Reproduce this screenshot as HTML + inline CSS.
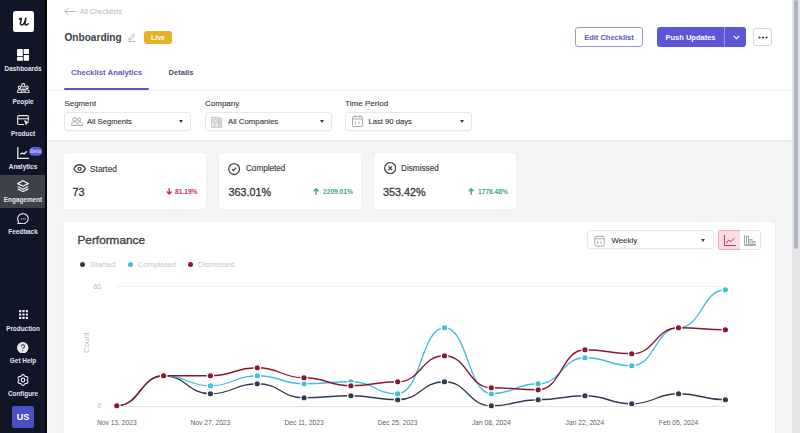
<!DOCTYPE html>
<html><head><meta charset="utf-8">
<style>
*{box-sizing:border-box;margin:0;padding:0}
html,body{width:800px;height:433px;overflow:hidden;background:#f4f4f5;font-family:"Liberation Sans",sans-serif;color:#3e4049}
.a{position:absolute;white-space:nowrap}
#side{position:absolute;left:0;top:0;width:47px;height:433px;background:#101527;border-right:2px solid #05080e}
.logo{position:absolute;left:12.5px;top:10.5px;width:21px;height:21px;background:#fff;border-radius:2.5px}
.logo span{position:absolute;left:0;top:3px;width:22px;text-align:center;font-family:"Liberation Serif",serif;font-style:italic;font-size:15px;color:#1a1f2c;line-height:14px}
.nl{position:absolute;left:0;width:46px;text-align:center;font-size:6.4px;font-weight:700;color:#e3e5ea;line-height:8px}
svg.ic{position:absolute}
#top{position:absolute;left:47px;top:0;width:745px;height:140px;background:#fff;box-shadow:0 1px 2px rgba(0,0,0,.07)}
.btn{position:absolute;border-radius:3px;font-size:7.5px;font-weight:700;text-align:center;padding-top:1px}
.lbl{position:absolute;font-size:8px;color:#3a3d45;line-height:10px;white-space:nowrap;-webkit-text-stroke:.12px #3a3d45}
.sel{position:absolute;height:19px;width:127px;background:#fff;border:1px solid #e9e9eb;border-radius:3px;box-shadow:0 1px 1px rgba(0,0,0,.03)}
.sel .t{position:absolute;top:4px;font-size:7.7px;color:#30333a;-webkit-text-stroke:.1px #30333a;line-height:10px;white-space:nowrap}
.caret{position:absolute;top:7px;width:0;height:0;border-left:2.6px solid transparent;border-right:2.6px solid transparent;border-top:3px solid #3e4148}
.card{position:absolute;background:#fff;border-radius:3px;box-shadow:0 0 1.5px rgba(0,0,0,.08)}
.ct{position:absolute;font-size:8.2px;color:#3a3d45;line-height:10px;white-space:nowrap;-webkit-text-stroke:.15px #3a3d45}
.cv{position:absolute;font-size:10.8px;color:#35383f;line-height:12px;white-space:nowrap;-webkit-text-stroke:.3px #35383f}
.cp{position:absolute;font-size:6.65px;font-weight:700;line-height:8px;white-space:nowrap}
#scroll{position:absolute;left:792px;top:0;width:8px;height:433px;background:#e2e5e8}
#thumb{position:absolute;left:794px;top:0;width:4px;height:249px;background:#afb4bb;border-radius:2px}
.chart{position:absolute;left:0;top:0}
.ax{position:absolute;font-size:6.7px;color:#5f6268;line-height:8px;white-space:nowrap}
.lg{position:absolute;font-size:7.9px;color:#c3c6cc;line-height:10px;white-space:nowrap}
.dot{position:absolute;width:5px;height:5px;border-radius:50%}
</style></head><body>
<div id="side">
  <div class="logo"><svg style="position:absolute;left:0;top:0" width="21" height="21" viewBox="0 0 21 21" fill="none" stroke="#16181d" stroke-width="1.5" stroke-linecap="round" stroke-linejoin="round"><path d="M6.5 8.3Q7.2 6.9 8 7.2Q8.5 7.5 8.1 9.2L7.5 11.6Q7.1 13.8 8.6 14Q10.2 14 11.6 11.4L12.9 7.2L12.1 11.8Q11.8 14 13 14Q14 14 15.3 12.8"/></svg></div>
  <!-- dashboards -->
  <svg class="ic" style="left:16.9px;top:48.9px" width="12.3" height="11.7" viewBox="0 0 12.3 11.7" fill="#fff"><rect x="0" y="0" width="5.8" height="6.9" rx=".5"/><rect x="6.7" y="0" width="5.6" height="5" rx=".5"/><rect x="0" y="7.7" width="5.8" height="4" rx=".5"/><rect x="6.7" y="5.9" width="5.6" height="5.8" rx=".5"/></svg>
  <div class="nl" style="top:65px">Dashboards</div>
  <!-- people -->
  <svg class="ic" style="left:17px;top:82.5px" width="12.5" height="10.5" viewBox="0 0 12.5 10.5" fill="none" stroke="#e8e9ec" stroke-width="1.1"><circle cx="6.25" cy="2.3" r="1.65"/><circle cx="2.5" cy="4.4" r="1.25"/><circle cx="10" cy="4.4" r="1.25"/><path d="M.6 9.9V8.3Q.6 6.7 2.5 6.7Q3.4 6.7 3.9 7.1Q4.8 6.1 6.25 6.1Q7.7 6.1 8.6 7.1Q9.1 6.7 10 6.7Q11.9 6.7 11.9 8.3V9.9Z"/><path d="M4.2 9.9V9Q4.2 7.7 6.25 7.7Q8.3 7.7 8.3 9V9.9"/></svg>
  <div class="nl" style="top:98px">People</div>
  <!-- product -->
  <svg class="ic" style="left:17px;top:115px" width="12.5" height="11" viewBox="0 0 12.5 11" fill="none" stroke="#e8e9ec" stroke-width="1.1"><path d="M7 9.5H1.8q-1.2 0-1.2-1.2V1.8Q.6.6 1.8.6h8.4q1.2 0 1.2 1.2v4"/><path d="M.6 3.8h10.8"/><path d="M7.4 5.6l4.4 1.6-1.9.8-.8 2z" fill="#e8e9ec" stroke-width=".6"/></svg>
  <div class="nl" style="top:130px">Product</div>
  <!-- analytics -->
  <svg class="ic" style="left:16.6px;top:147px" width="12.5" height="12.5" viewBox="0 0 12.5 12.5" fill="none" stroke="#e8e9ec" stroke-width="1.3"><path d="M.8 0v11.3h11.5"/><path d="M3.2 7.3l2.1-1.3 1.7.9 2.9-2.7"/></svg>
  <svg class="ic" style="left:28.7px;top:147.1px" width="13.2" height="8.8" viewBox="0 0 13.2 8.8"><rect x="0" y="0" width="13.2" height="8.8" rx="4.4" fill="#615ddc"/><text x="6.6" y="6.2" text-anchor="middle" font-family="Liberation Sans" font-weight="700" font-size="4.9" fill="#c4c2ff">Beta</text></svg>
  <div class="nl" style="top:163px">Analytics</div>
  <!-- engagement (active) -->
  <div class="a" style="left:0;top:175.3px;width:45px;height:32.5px;background:#3d4149"></div>
  <svg class="ic" style="left:17px;top:179.5px" width="12" height="12" viewBox="0 0 12 12" fill="none" stroke="#f0f1f3" stroke-width="1.2" stroke-linejoin="round"><path d="M6 .7l5.3 2.9L6 6.3.7 3.6z"/><path d="M.7 6.5L6 9.2l5.3-2.7"/><path d="M.7 8.9L6 11.5l5.3-2.6"/></svg>
  <div class="nl" style="top:196px">Engagement</div>
  <!-- feedback -->
  <svg class="ic" style="left:17px;top:212.5px" width="12" height="11.5" viewBox="0 0 12 11.5" fill="none" stroke="#e8e9ec" stroke-width="1.1"><path d="M6.2.6a5.1 5.1 0 1 1-2.5 9.6L.8 11l.7-2.6A5.1 5.1 0 0 1 6.2.6z"/><circle cx="4.3" cy="5.9" r=".6" fill="#e8e9ec" stroke="none"/><circle cx="6.2" cy="5.9" r=".6" fill="#e8e9ec" stroke="none"/><circle cx="8.1" cy="5.9" r=".6" fill="#e8e9ec" stroke="none"/></svg>
  <div class="nl" style="top:228px">Feedback</div>
  <!-- production -->
  <svg class="ic" style="left:18.6px;top:310.3px" width="9" height="9" viewBox="0 0 9 9" fill="#f4f5f7"><rect x="0" y="0" width="2.2" height="2.2" rx=".5"/><rect x="3.4" y="0" width="2.2" height="2.2" rx=".5"/><rect x="6.8" y="0" width="2.2" height="2.2" rx=".5"/><rect x="0" y="3.4" width="2.2" height="2.2" rx=".5"/><rect x="3.4" y="3.4" width="2.2" height="2.2" rx=".5"/><rect x="6.8" y="3.4" width="2.2" height="2.2" rx=".5"/><rect x="0" y="6.8" width="2.2" height="2.2" rx=".5"/><rect x="3.4" y="6.8" width="2.2" height="2.2" rx=".5"/><rect x="6.8" y="6.8" width="2.2" height="2.2" rx=".5"/></svg>
  <div class="nl" style="top:325px">Production</div>
  <!-- get help -->
  <svg class="ic" style="left:17.4px;top:341.8px" width="11.5" height="11.5" viewBox="0 0 11.5 11.5"><circle cx="5.75" cy="5.75" r="5.7" fill="#e9eaed"/><path d="M4.1 4.4a1.7 1.7 0 1 1 2.4 1.5c-.6.3-.8.6-.8 1.2" fill="none" stroke="#3a3d44" stroke-width="1.1"/><circle cx="5.7" cy="8.6" r=".65" fill="#3a3d44"/></svg>
  <div class="nl" style="top:357px">Get Help</div>
  <!-- configure -->
  <svg class="ic" style="left:17.2px;top:374.3px" width="12" height="12" viewBox="0 0 12 12" fill="none" stroke="#e8e9ec" stroke-width="1.2"><path d="M10.25 6.00 L10.27 6.22 L10.34 6.46 L10.44 6.70 L10.56 6.97 L10.68 7.26 L10.79 7.56 L10.86 7.86 L10.87 8.17 L10.83 8.46 L10.72 8.72 L10.55 8.95 L10.32 9.14 L10.04 9.27 L9.74 9.37 L9.43 9.43 L9.12 9.47 L8.83 9.50 L8.57 9.53 L8.33 9.59 L8.12 9.68 L7.94 9.81 L7.78 9.99 L7.61 10.20 L7.44 10.44 L7.26 10.68 L7.05 10.93 L6.81 11.14 L6.56 11.31 L6.28 11.41 L6.00 11.45 L5.72 11.41 L5.44 11.31 L5.19 11.14 L4.95 10.93 L4.74 10.68 L4.56 10.44 L4.39 10.20 L4.22 9.99 L4.06 9.81 L3.88 9.68 L3.67 9.59 L3.43 9.53 L3.17 9.50 L2.88 9.47 L2.57 9.43 L2.26 9.37 L1.96 9.27 L1.68 9.14 L1.45 8.95 L1.28 8.72 L1.17 8.46 L1.13 8.17 L1.14 7.86 L1.21 7.56 L1.32 7.26 L1.44 6.97 L1.56 6.70 L1.66 6.46 L1.73 6.22 L1.75 6.00 L1.73 5.78 L1.66 5.54 L1.56 5.30 L1.44 5.03 L1.32 4.74 L1.21 4.44 L1.14 4.14 L1.13 3.83 L1.17 3.54 L1.28 3.28 L1.45 3.05 L1.68 2.86 L1.96 2.73 L2.26 2.63 L2.57 2.57 L2.88 2.53 L3.17 2.50 L3.43 2.47 L3.67 2.41 L3.87 2.32 L4.06 2.19 L4.22 2.01 L4.39 1.80 L4.56 1.56 L4.74 1.32 L4.95 1.07 L5.19 0.86 L5.44 0.69 L5.72 0.59 L6.00 0.55 L6.28 0.59 L6.56 0.69 L6.81 0.86 L7.05 1.07 L7.26 1.32 L7.44 1.56 L7.61 1.80 L7.78 2.01 L7.94 2.19 L8.12 2.32 L8.33 2.41 L8.57 2.47 L8.83 2.50 L9.12 2.53 L9.43 2.57 L9.74 2.63 L10.04 2.73 L10.32 2.86 L10.55 3.05 L10.72 3.28 L10.83 3.54 L10.87 3.83 L10.86 4.14 L10.79 4.44 L10.68 4.74 L10.56 5.03 L10.44 5.30 L10.34 5.54 L10.27 5.78Z"/><circle cx="6" cy="6" r="1.8"/></svg>
  <div class="nl" style="top:390px">Configure</div>
  <!-- avatar -->
  <div class="a" style="left:12px;top:406px;width:22px;height:22px;background:#4b4fc4;border-radius:2px;color:#fff;font-size:9px;font-weight:700;text-align:center;line-height:22px">US</div>
</div>

<div id="top"></div>
<!-- header -->
<svg class="ic" style="left:64px;top:7px" width="12" height="9" viewBox="0 0 12 9" fill="none" stroke="#b4b6ba" stroke-width="1"><path d="M11.5 4.5H1M4.5 1L1 4.5 4.5 8"/></svg>
<div class="a" style="left:80px;top:7px;font-size:7.06px;color:#b4b6bb;line-height:9px">All Checklists</div>
<div class="a" style="left:64.5px;top:31px;font-size:10.1px;font-weight:700;color:#3d4048;line-height:13px">Onboarding</div>
<svg class="ic" style="left:128px;top:33px" width="8" height="9" viewBox="0 0 8 9" fill="none" stroke="#a9abb0" stroke-width=".9"><path d="M1 7l.3-1.8L5.6 1 7 2.4 2.7 6.7z"/><path d="M0.5 8.5h7"/></svg>
<div class="a" style="left:144px;top:31px;width:28px;height:13px;background:#e2b324;border-radius:3px;color:#fff;font-size:7px;font-weight:700;text-align:center;line-height:13px">Live</div>

<div class="btn" style="left:575px;top:27.3px;width:68px;height:19.5px;border:1px solid #9b97e3;color:#5b56bb;line-height:17px">Edit Checklist</div>
<div class="btn" style="left:656.5px;top:27.4px;width:89.5px;height:19.2px;background:#5d57d8;color:#fff;line-height:20px"><span style="position:absolute;left:0;top:1px;line-height:19px;width:68px;text-align:center">Push Updates</span><span style="position:absolute;left:67.5px;top:0;width:1px;height:19.2px;background:#9893ea"></span><svg style="position:absolute;left:76px;top:8px" width="7" height="5" viewBox="0 0 7 5" fill="none" stroke="#fff" stroke-width="1.2"><path d="M.7 .8L3.5 3.6 6.3 .8"/></svg></div>
<div class="btn" style="left:753px;top:28px;width:19px;height:18px;border:1px solid #d9d9dd;background:#fff"><svg style="position:absolute;left:4px;top:7px" width="10" height="3" viewBox="0 0 10 3" fill="#3a3d45"><circle cx="1.5" cy="1.5" r="1.1"/><circle cx="5" cy="1.5" r="1.1"/><circle cx="8.5" cy="1.5" r="1.1"/></svg></div>

<!-- tabs -->
<div class="a" style="left:71px;top:68.3px;font-size:7.8px;font-weight:700;color:#615bb8;line-height:10px">Checklist Analytics</div>
<div class="a" style="left:168.5px;top:68.3px;font-size:7.6px;font-weight:700;color:#4d4f68;line-height:10px">Details</div>
<div class="a" style="left:64px;top:88px;width:85px;height:2px;background:#5c56c4;border-radius:1px"></div>
<div class="a" style="left:47px;top:90px;width:745px;height:1px;background:#f0f0f1"></div>

<!-- filters -->
<div class="lbl" style="left:64.5px;top:99px;font-size:7.9px">Segment</div>
<div class="sel" style="left:64px;top:112px"><svg style="position:absolute;left:6px;top:4.2px" width="12" height="9" viewBox="0 0 12 9" fill="none" stroke="#9ea2a8" stroke-width=".95"><circle cx="3.6" cy="2.3" r="1.8"/><path d="M.5 8.4V7.6a3.1 3.1 0 0 1 6.2 0v.8z"/><circle cx="8.1" cy="2.6" r="1.6"/><path d="M7.4 5.2a2.9 2.9 0 0 1 4.1 2.6v.6H6.7"/></svg><div class="t" style="left:22px;font-size:7.64px">All Segments</div><div class="caret" style="left:113.6px"></div></div>
<div class="lbl" style="left:205px;top:99px">Company</div>
<div class="sel" style="left:205px;top:112px"><svg style="position:absolute;left:5px;top:3px" width="12" height="12" viewBox="0 0 12 12" fill="none" stroke="#b7bbc0" stroke-width=".9"><path d="M.6 11.2V1.4h6.9v9.8z" fill="#f1f2f4"/><path d="M7.5 11.2V2.4h3.2v8.8z" fill="#eef0f2"/><path d="M2.3 3.4h3.5v2.4H2.3zM2.3 7.2h1.6v4M5 7.2h1.2M8.9 3.6v6"/></svg><div class="t" style="left:22px;font-size:7.8px">All Companies</div><div class="caret" style="left:113.6px"></div></div>
<div class="lbl" style="left:345px;top:99px;font-size:8.1px">Time Period</div>
<div class="sel" style="left:345px;top:112px"><svg style="position:absolute;left:5.5px;top:2.3px" width="11" height="12" viewBox="0 0 11 12" fill="none" stroke="#a1a5ab" stroke-width=".9"><rect x=".5" y="1.5" width="10" height="10" rx="1.5"/><path d="M.5 4h10M3 .3v2.2M8 .3v2.2M3.5 6.5v3M7 6.5v3"/></svg><div class="t" style="left:22.5px;font-size:7.67px">Last 90 days</div><div class="caret" style="left:113.6px"></div></div>

<!-- stat cards -->
<div class="card" style="left:64px;top:153px;width:142px;height:56px"></div>
<div class="card" style="left:219px;top:153px;width:142px;height:56px"></div>
<div class="card" style="left:374px;top:153px;width:142px;height:56px"></div>

<svg class="ic" style="left:72.8px;top:163.5px" width="13.2" height="9.6" viewBox="0 0 13.2 9.6" fill="none" stroke="#45484f" stroke-width="1.4"><path d="M.8 4.8C2.1 2.2 4.2.8 6.6.8s4.5 1.4 5.8 4c-1.3 2.6-3.4 4-5.8 4S2.1 7.4.8 4.8z"/><circle cx="6.6" cy="4.8" r="1.5" stroke-width="1.3"/></svg>
<div class="ct" style="left:90px;top:164px;font-size:8.37px">Started</div>
<div class="cv" style="left:72.5px;top:186px">73</div>
<svg class="ic" style="left:165.8px;top:188px" width="6.4" height="7" viewBox="0 0 6.4 7" fill="none" stroke="#cc3350" stroke-width="1.4" stroke-linejoin="round"><path d="M3.2 .2v6M.8 3.6L3.2 6 5.6 3.6"/></svg>
<div class="cp" style="left:175px;top:187.5px;color:#c9344f">81.19%</div>

<svg class="ic" style="left:228.3px;top:162.8px" width="12.2" height="12.2" viewBox="0 0 12.2 12.2" fill="none" stroke="#45484f" stroke-width="1.3"><circle cx="6.1" cy="6.1" r="5.4"/><path d="M4 6.3l1.4 1.3 2.8-2.8"/></svg>
<div class="ct" style="left:246px;top:164px;font-size:8.15px">Completed</div>
<div class="cv" style="left:228.5px;top:186px">363.01%</div>
<svg class="ic" style="left:313px;top:188px" width="6.4" height="7" viewBox="0 0 6.4 7" fill="none" stroke="#3aab7e" stroke-width="1.4" stroke-linejoin="round"><path d="M3.2 6.8V.8M.8 3.2L3.2 .8 5.6 3.2"/></svg>
<div class="cp" style="left:323px;top:187.5px;color:#3aa97d">2209.01%</div>

<svg class="ic" style="left:383.5px;top:162px" width="12.4" height="12.4" viewBox="0 0 12.4 12.4" fill="none" stroke="#45484f" stroke-width="1.3"><circle cx="6.2" cy="6.2" r="5.5"/><path d="M4.4 4.4l3.6 3.6M8 4.4L4.4 8"/></svg>
<div class="ct" style="left:401px;top:164px">Dismissed</div>
<div class="cv" style="left:383px;top:186px">353.42%</div>
<svg class="ic" style="left:468px;top:188px" width="6.4" height="7" viewBox="0 0 6.4 7" fill="none" stroke="#3aab7e" stroke-width="1.4" stroke-linejoin="round"><path d="M3.2 6.8V.8M.8 3.2L3.2 .8 5.6 3.2"/></svg>
<div class="cp" style="left:478px;top:187.5px;color:#3aa97d">1778.48%</div>

<!-- performance card -->
<div class="card" style="left:64px;top:222px;width:711px;height:240px"></div>
<div class="a" style="left:77.5px;top:233px;font-size:11.8px;color:#404249;line-height:14px;-webkit-text-stroke:.35px #404249">Performance</div>
<div class="dot" style="left:79.5px;top:261.5px;background:#2e3b51"></div><div class="lg" style="left:90px;top:259.6px">Started</div>
<div class="dot" style="left:127.5px;top:261.5px;background:#43bed9"></div><div class="lg" style="left:137.5px;top:259.6px">Completed</div>
<div class="dot" style="left:188px;top:261.5px;background:#881832"></div><div class="lg" style="left:198px;top:259.6px">Dismissed</div>

<div class="sel" style="left:587px;top:230px;width:127px;height:19px"><svg style="position:absolute;left:6px;top:4px" width="11" height="11.5" viewBox="0 0 11 12" fill="none" stroke="#a1a5ab" stroke-width=".9"><rect x=".5" y="1.5" width="10" height="10" rx="1.5"/><path d="M.5 4h10M3 .3v2.2M8 .3v2.2M3.5 6.5v3M7 6.5v3"/></svg><div class="t" style="left:23.5px;top:4.5px;font-size:7.85px">Weekly</div><div class="caret" style="left:112.5px;top:8px"></div></div>
<div class="a" style="left:718px;top:230px;width:23px;height:20px;background:#fbdde4;border:1px solid #f0aabb;border-radius:2px"><svg style="position:absolute;left:5px;top:4px" width="12" height="11" viewBox="0 0 12 11" fill="none" stroke="#c23a5c" stroke-width="1"><path d="M.5 0v10.5H12"/><path d="M2.2 8l2.6-3 2 1.6L10.5 3"/></svg></div>
<div class="a" style="left:740px;top:230px;width:21px;height:20px;background:#fff;border:1px solid #e6e6e9;border-left:none;border-radius:0 2px 2px 0"><svg style="position:absolute;left:4px;top:4px" width="12" height="11" viewBox="0 0 12 11" fill="none" stroke="#9a9da3" stroke-width=".9"><path d="M.5 0v10.5H12"/><rect x="2.5" y="1.5" width="2" height="8"/><rect x="6" y="4.5" width="2" height="5"/><rect x="9" y="6.5" width="2" height="3"/></svg></div>

<svg class="chart" width="800" height="433" viewBox="0 0 800 433">
<line x1="117" y1="286.5" x2="725" y2="286.5" stroke="#efefef" stroke-width="1"/>
<line x1="117" y1="406.5" x2="725" y2="406.5" stroke="#e4e4e4" stroke-width="1"/>
<path d="M116.80,405.75C140.21,405.75 140.21,375.75 163.62,375.75C187.02,375.75 187.02,393.75 210.43,393.75C233.84,393.75 233.84,383.75 257.25,383.75C280.65,383.75 280.65,397.75 304.06,397.75C327.47,397.75 327.47,395.75 350.88,395.75C374.28,395.75 374.28,399.75 397.69,399.75C421.10,399.75 421.10,381.75 444.50,381.75C467.91,381.75 467.91,405.75 491.32,405.75C514.73,405.75 514.73,399.75 538.13,399.75C561.54,399.75 561.54,395.75 584.95,395.75C608.36,395.75 608.36,403.75 631.76,403.75C655.17,403.75 655.17,393.75 678.58,393.75C701.99,393.75 701.99,399.75 725.39,399.75" fill="none" stroke="#2e3b51" stroke-width="1.35"/><circle cx="116.80" cy="405.75" r="3.2" fill="#2e3b51" stroke="#fff" stroke-width="1.2"/><circle cx="163.62" cy="375.75" r="3.2" fill="#2e3b51" stroke="#fff" stroke-width="1.2"/><circle cx="210.43" cy="393.75" r="3.2" fill="#2e3b51" stroke="#fff" stroke-width="1.2"/><circle cx="257.25" cy="383.75" r="3.2" fill="#2e3b51" stroke="#fff" stroke-width="1.2"/><circle cx="304.06" cy="397.75" r="3.2" fill="#2e3b51" stroke="#fff" stroke-width="1.2"/><circle cx="350.88" cy="395.75" r="3.2" fill="#2e3b51" stroke="#fff" stroke-width="1.2"/><circle cx="397.69" cy="399.75" r="3.2" fill="#2e3b51" stroke="#fff" stroke-width="1.2"/><circle cx="444.50" cy="381.75" r="3.2" fill="#2e3b51" stroke="#fff" stroke-width="1.2"/><circle cx="491.32" cy="405.75" r="3.2" fill="#2e3b51" stroke="#fff" stroke-width="1.2"/><circle cx="538.13" cy="399.75" r="3.2" fill="#2e3b51" stroke="#fff" stroke-width="1.2"/><circle cx="584.95" cy="395.75" r="3.2" fill="#2e3b51" stroke="#fff" stroke-width="1.2"/><circle cx="631.76" cy="403.75" r="3.2" fill="#2e3b51" stroke="#fff" stroke-width="1.2"/><circle cx="678.58" cy="393.75" r="3.2" fill="#2e3b51" stroke="#fff" stroke-width="1.2"/><circle cx="725.39" cy="399.75" r="3.2" fill="#2e3b51" stroke="#fff" stroke-width="1.2"/>
<path d="M116.80,405.75C140.21,405.75 140.21,375.75 163.62,375.75C187.02,375.75 187.02,385.75 210.43,385.75C233.84,385.75 233.84,375.75 257.25,375.75C280.65,375.75 280.65,383.75 304.06,383.75C327.47,383.75 327.47,381.75 350.88,381.75C374.28,381.75 374.28,393.75 397.69,393.75C421.10,393.75 421.10,327.75 444.50,327.75C467.91,327.75 467.91,393.75 491.32,393.75C514.73,393.75 514.73,383.75 538.13,383.75C561.54,383.75 561.54,357.75 584.95,357.75C608.36,357.75 608.36,365.75 631.76,365.75C655.17,365.75 655.17,327.75 678.58,327.75C701.99,327.75 701.99,289.75 725.39,289.75" fill="none" stroke="#43bed9" stroke-width="1.35"/><circle cx="116.80" cy="405.75" r="3.2" fill="#43bed9" stroke="#fff" stroke-width="1.2"/><circle cx="163.62" cy="375.75" r="3.2" fill="#43bed9" stroke="#fff" stroke-width="1.2"/><circle cx="210.43" cy="385.75" r="3.2" fill="#43bed9" stroke="#fff" stroke-width="1.2"/><circle cx="257.25" cy="375.75" r="3.2" fill="#43bed9" stroke="#fff" stroke-width="1.2"/><circle cx="304.06" cy="383.75" r="3.2" fill="#43bed9" stroke="#fff" stroke-width="1.2"/><circle cx="350.88" cy="381.75" r="3.2" fill="#43bed9" stroke="#fff" stroke-width="1.2"/><circle cx="397.69" cy="393.75" r="3.2" fill="#43bed9" stroke="#fff" stroke-width="1.2"/><circle cx="444.50" cy="327.75" r="3.2" fill="#43bed9" stroke="#fff" stroke-width="1.2"/><circle cx="491.32" cy="393.75" r="3.2" fill="#43bed9" stroke="#fff" stroke-width="1.2"/><circle cx="538.13" cy="383.75" r="3.2" fill="#43bed9" stroke="#fff" stroke-width="1.2"/><circle cx="584.95" cy="357.75" r="3.2" fill="#43bed9" stroke="#fff" stroke-width="1.2"/><circle cx="631.76" cy="365.75" r="3.2" fill="#43bed9" stroke="#fff" stroke-width="1.2"/><circle cx="678.58" cy="327.75" r="3.2" fill="#43bed9" stroke="#fff" stroke-width="1.2"/><circle cx="725.39" cy="289.75" r="3.2" fill="#43bed9" stroke="#fff" stroke-width="1.2"/>
<path d="M116.80,405.75C140.21,405.75 140.21,375.75 163.62,375.75C187.02,375.75 187.02,375.75 210.43,375.75C233.84,375.75 233.84,367.75 257.25,367.75C280.65,367.75 280.65,377.75 304.06,377.75C327.47,377.75 327.47,385.75 350.88,385.75C374.28,385.75 374.28,381.75 397.69,381.75C421.10,381.75 421.10,355.75 444.50,355.75C467.91,355.75 467.91,387.75 491.32,387.75C514.73,387.75 514.73,389.75 538.13,389.75C561.54,389.75 561.54,349.75 584.95,349.75C608.36,349.75 608.36,353.75 631.76,353.75C655.17,353.75 655.17,327.75 678.58,327.75C701.99,327.75 701.99,329.75 725.39,329.75" fill="none" stroke="#881832" stroke-width="1.35"/><circle cx="116.80" cy="405.75" r="3.2" fill="#881832" stroke="#fff" stroke-width="1.2"/><circle cx="163.62" cy="375.75" r="3.2" fill="#881832" stroke="#fff" stroke-width="1.2"/><circle cx="210.43" cy="375.75" r="3.2" fill="#881832" stroke="#fff" stroke-width="1.2"/><circle cx="257.25" cy="367.75" r="3.2" fill="#881832" stroke="#fff" stroke-width="1.2"/><circle cx="304.06" cy="377.75" r="3.2" fill="#881832" stroke="#fff" stroke-width="1.2"/><circle cx="350.88" cy="385.75" r="3.2" fill="#881832" stroke="#fff" stroke-width="1.2"/><circle cx="397.69" cy="381.75" r="3.2" fill="#881832" stroke="#fff" stroke-width="1.2"/><circle cx="444.50" cy="355.75" r="3.2" fill="#881832" stroke="#fff" stroke-width="1.2"/><circle cx="491.32" cy="387.75" r="3.2" fill="#881832" stroke="#fff" stroke-width="1.2"/><circle cx="538.13" cy="389.75" r="3.2" fill="#881832" stroke="#fff" stroke-width="1.2"/><circle cx="584.95" cy="349.75" r="3.2" fill="#881832" stroke="#fff" stroke-width="1.2"/><circle cx="631.76" cy="353.75" r="3.2" fill="#881832" stroke="#fff" stroke-width="1.2"/><circle cx="678.58" cy="327.75" r="3.2" fill="#881832" stroke="#fff" stroke-width="1.2"/><circle cx="725.39" cy="329.75" r="3.2" fill="#881832" stroke="#fff" stroke-width="1.2"/>
</svg>
<div class="ax" style="left:93.5px;top:282.5px;color:#b3b5b9">60</div>
<div class="ax" style="left:97.5px;top:402px;color:#b3b5b9">0</div>
<div class="a" style="left:76px;top:338px;width:21px;transform:rotate(-90deg);font-size:7.87px;color:#b9bbbf;line-height:9px;text-align:center">Count</div>
<div class="ax" style="left:76.80px;top:418.5px;width:80px;text-align:center">Nov 13, 2023</div>
<div class="ax" style="left:170.43px;top:418.5px;width:80px;text-align:center">Nov 27, 2023</div>
<div class="ax" style="left:264.06px;top:418.5px;width:80px;text-align:center">Dec 11, 2023</div>
<div class="ax" style="left:357.69px;top:418.5px;width:80px;text-align:center">Dec 25, 2023</div>
<div class="ax" style="left:451.32px;top:418.5px;width:80px;text-align:center">Jan 08, 2024</div>
<div class="ax" style="left:544.95px;top:418.5px;width:80px;text-align:center">Jan 22, 2024</div>
<div class="ax" style="left:638.58px;top:418.5px;width:80px;text-align:center">Feb 05, 2024</div>

<div id="scroll"></div><div id="thumb"></div>
</body></html>
